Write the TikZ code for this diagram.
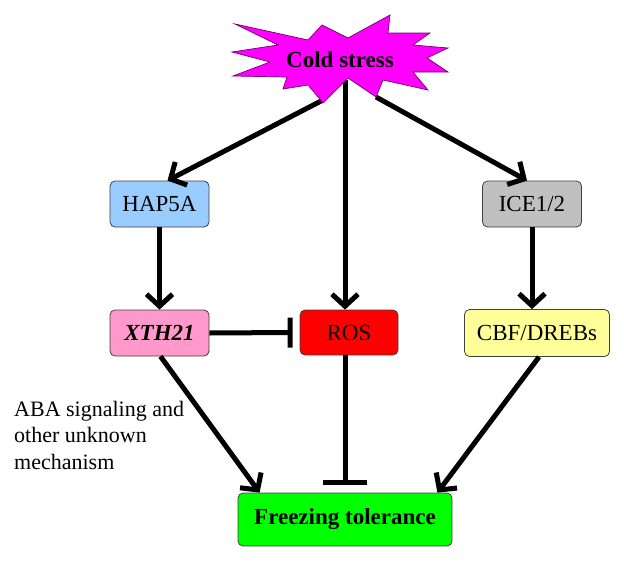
\documentclass[tikz,border=0pt]{standalone}
\usepackage{fontspec}
\setmainfont{Liberation Serif}
\usetikzlibrary{arrows.meta,calc}
\definecolor{hapblue}{RGB}{153,204,255}
\definecolor{xthpink}{RGB}{255,153,204}
\definecolor{rosred}{RGB}{255,0,0}
\definecolor{icegray}{RGB}{192,192,192}
\definecolor{cbfyellow}{RGB}{255,255,153}
\definecolor{frzgreen}{RGB}{0,255,0}
\definecolor{starmag}{RGB}{255,0,255}
\definecolor{starline}{RGB}{110,0,110}
\begin{document}
\begin{tikzpicture}[x=1pt,y=-1pt,
  box/.style={draw=black!75, line width=0.8pt, rounded corners=5pt,
    minimum height=46pt, inner sep=0pt, font=\fontsize{23}{25}\selectfont},
  act/.style={line width=5pt, -{Straight Barb[length=12pt,width=26pt]}},
  inh/.style={line width=5pt, -{Bar[width=30pt]}},
  inhwide/.style={line width=5pt, -{Bar[width=44pt]}},
  lbl/.style={align=left, anchor=north west, inner sep=0pt,
    font=\fontsize{22}{26.5}\selectfont}
]
\useasboundingbox (0,0) rectangle (624,560);

% nodes
\node[box, fill=hapblue, minimum width=99pt] (hap) at (159.5,204) {HAP5A};
\node[box, fill=xthpink, minimum width=99pt] (xth) at (159.5,333) {\textbf{\textit{XTH21}}};
\node[box, fill=rosred, minimum width=98pt, minimum height=45pt] (ros) at (349,332.5) {ROS};
\node[box, fill=icegray, minimum width=99pt] (ice) at (532,204) {ICE1/2};
\node[box, fill=cbfyellow, minimum width=145pt, minimum height=47pt] (cbf) at (537,333) {CBF/DREBs};
\node[box, fill=frzgreen, minimum width=214pt, minimum height=53pt] (frz) at (345,519.5) {\textbf{Freezing tolerance}};

\node[lbl] (aba) at (14,401) {ABA signaling and\\other unknown\\mechanism};

% start points of connectors on the star
\coordinate (sL) at (323,100);
\coordinate (sM) at (345,80);
\coordinate (sR) at (376,97);

% connectors
\draw[act] (sL) -- ($(hap.north)+(8,0)$);
\draw[act] (sM) -- (sM |- ros.north);
\draw[act] (sR) -- ($(ice.north)+(-5,0)$);
\draw[act] (hap.south) -- (xth.north);
\draw[act] (ice.south) -- (ice.south |- cbf.north);
\draw[inh] (xth.east) -- ($(ros.west)+(-7,0)$);
\draw[inhwide] (sM |- ros.south) -- ($(sM |- frz.north)+(0,-8)$);
\draw[act] ($(xth.south)+(1,0)$) -- ($(frz.north west)+(22,0)$);
\draw[act] ($(cbf.south)+(2,0)$) -- ($(frz.north east)+(-15,0)$);

% star
\filldraw[fill=starmag, draw=starline, line width=0.7pt]
  (235,24) -- (308,40) -- (322,25) -- (348,38) -- (390,15) -- (388,33)
  -- (430,33) -- (413,45) -- (448,48) -- (427,58) -- (448,72) -- (413,72)
  -- (428,90) -- (383,80) -- (376,97) -- (348,78) -- (323,103) -- (308,85)
  -- (283,89) -- (287,77) -- (233,76) -- (270,62) -- (232,52) -- (278,45)
  -- cycle;
\node[font=\fontsize{23}{25}\selectfont\bfseries, inner sep=0pt] (cold) at (340,60) {Cold stress};
\end{tikzpicture}
\end{document}
